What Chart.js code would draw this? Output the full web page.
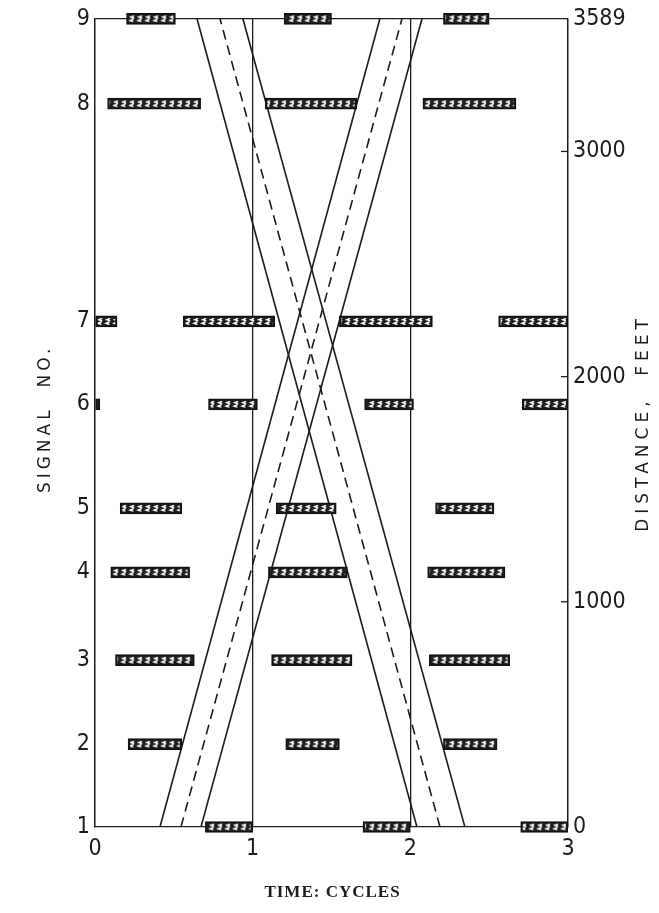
<!DOCTYPE html>
<html><head><meta charset="utf-8">
<script src="https://cdn.jsdelivr.net/npm/chart.js@4.4.1/dist/chart.umd.min.js"></script>
<style>html,body{margin:0;padding:0;background:#fff}#wrap{width:659px;height:913px;position:relative}</style>
</head><body><div id="wrap"><canvas id="c"></canvas></div>
<script>
// ---- data ----
const cycleTicks = [0, 1, 2, 3];
const signalLabels = ['1', '2', '3', '4', '5', '6', '7', '8', '9'];
const signalDistances = [0, 368, 741, 1131, 1415, 1877, 2245, 3212, 3589];
const distanceTicks = [0, 1000, 2000, 3000, 3589];

// red intervals (cycles) for each signal
const red1 = [[0.70, 1.00], [1.70, 2.00], [2.70, 3.00]];
const red2 = [[0.21, 0.55], [1.21, 1.55], [2.21, 2.55]];
const red3 = [[0.13, 0.63], [1.12, 1.63], [2.12, 2.63]];
const red4 = [[0.10, 0.60], [1.10, 1.60], [2.11, 2.60]];
const red5 = [[0.16, 0.55], [1.15, 1.53], [2.16, 2.53]];
const red6 = [[0.00, 0.03], [0.72, 1.03], [1.71, 2.02], [2.71, 3.00]];
const red7 = [[0.00, 0.14], [0.56, 1.14], [1.55, 2.14], [2.56, 3.00]];
const red8 = [[0.08, 0.67], [1.08, 1.66], [2.08, 2.67]];
const red9 = [[0.20, 0.51], [1.20, 1.50], [2.21, 2.50]];

// through-bands: time (cycles) at distance 0 and at distance 3589
const bandDistances = [0, 3589];
const upBandLower  = [0.412, 1.807];
const upBandCenter = [0.545, 1.947];
const upBandUpper  = [0.672, 2.074];
const downBandLower  = [2.042, 0.647];
const downBandCenter = [2.188, 0.793];
const downBandUpper  = [2.346, 0.938];

// ---- build ----
const reds = [red1, red2, red3, red4, red5, red6, red7, red8, red9];
const barData = [];
reds.forEach((list, i) => list.forEach(r => barData.push({x: [r[0], r[1]], y: signalDistances[i]})));
const toPts = arr => bandDistances.map((d, i) => ({x: arr[i], y: d}));

const INK = '#1c1c1c';
const tickFont = {family: "'Liberation Sans Narrow','DejaVu Sans Condensed','Liberation Sans',sans-serif", size: 23};

function lineDs(arr, dashed) {
  return {type: 'line', data: toPts(arr), borderColor: INK, borderWidth: 1.6,
    borderDash: dashed ? [10, 6] : [], pointRadius: 0, fill: false, tension: 0, order: 2,
    xAxisID: 'x', yAxisID: 'y'};
}

function makeHatch(ctx) {
  const c = document.createElement('canvas');
  c.width = 8; c.height = 11;
  const g = c.getContext('2d');
  g.strokeStyle = '#fff'; g.lineWidth = 1.5;
  g.beginPath();
  g.moveTo(6.2, 2.4); g.lineTo(2.8, 3.8); g.lineTo(6.2, 5.0);
  g.moveTo(5.4, 6.0); g.lineTo(2.0, 7.3); g.lineTo(5.4, 8.6);
  g.stroke();
  return ctx.createPattern(c, 'repeat');
}

const decor = {
  id: 'decor',
  afterDatasetsDraw(chart) {
    const ctx = chart.ctx;
    if (!chart._hatch) chart._hatch = makeHatch(ctx);
    chart.data.datasets.forEach((ds, di) => {
      if (ds.type !== 'bar') return;
      const meta = chart.getDatasetMeta(di);
      meta.data.forEach(el => {
        const p = el.getProps(['x', 'y', 'base', 'height'], true);
        const left = Math.min(p.x, p.base), w = Math.abs(p.x - p.base);
        const top = p.y - p.height / 2;
        if (w < 5) return;
        ctx.save();
        ctx.beginPath();
        ctx.rect(left + 2, top + 2, w - 4, p.height - 4);
        ctx.clip();
        ctx.translate(0, top);
        ctx.fillStyle = chart._hatch;
        ctx.fillRect(left, 0, w, p.height);
        ctx.restore();
      });
    });
  },
  afterDraw(chart) {
    const ctx = chart.ctx, a = chart.chartArea;
    const y2 = chart.scales.y2;
    ctx.save();
    ctx.strokeStyle = INK; ctx.lineWidth = 1.3;
    distanceTicks.forEach(v => {
      if (v === 0 || v === 3589) return;
      const py = y2.getPixelForValue(v);
      ctx.beginPath(); ctx.moveTo(a.right - 7, py); ctx.lineTo(a.right, py); ctx.stroke();
    });
    ctx.fillStyle = INK;
    ctx.textAlign = 'center'; ctx.textBaseline = 'middle';
    const midY = (a.top + a.bottom) / 2;
    ctx.save();
    ctx.font = "17px 'DejaVu Sans', sans-serif";
    ctx.letterSpacing = '4px';
    ctx.translate(46, midY - 4);
    ctx.rotate(-Math.PI / 2);
    ctx.fillText('SIGNAL  NO.', 0, 0);
    ctx.restore();
    ctx.save();
    ctx.font = "17px 'DejaVu Sans', sans-serif";
    ctx.letterSpacing = '5px';
    ctx.translate(644, midY);
    ctx.rotate(-Math.PI / 2);
    ctx.fillText('DISTANCE,  FEET', 0, 0);
    ctx.restore();
    ctx.save();
    ctx.font = "bold 17px 'Liberation Serif', serif";
    ctx.letterSpacing = '1px';
    ctx.fillText('TIME: CYCLES', (a.left + a.right) / 2 + 1, 893);
    ctx.restore();
    ctx.restore();
  }
};

new Chart(document.getElementById('c'), {
  type: 'bar',
  data: {
    datasets: [
      {type: 'bar', indexAxis: 'y', data: barData, barThickness: 11,
       backgroundColor: '#1e1e1e', borderColor: '#111', borderWidth: 1.5, borderSkipped: false,
       order: 1, xAxisID: 'x', yAxisID: 'y', clip: {left: 0, right: 0, top: 10, bottom: 10}},
      lineDs(upBandLower, false), lineDs(upBandCenter, true), lineDs(upBandUpper, false),
      lineDs(downBandLower, false), lineDs(downBandCenter, true), lineDs(downBandUpper, false)
    ]
  },
  options: {
    responsive: true, maintainAspectRatio: false, animation: false,
    layout: {padding: {top: 18, left: 0, right: 0, bottom: 0}},
    plugins: {legend: {display: false}, tooltip: {enabled: false}},
    scales: {
      x: {type: 'linear', position: 'bottom', min: 0, max: 3, offset: false,
        afterBuildTicks: s => { s.ticks = cycleTicks.map(v => ({value: v})); },
        ticks: {font: tickFont, color: INK, padding: 8, maxRotation: 0, callback: v => String(v)},
        grid: {color: INK, lineWidth: 1.3, drawTicks: false, offset: false},
        border: {display: true, color: INK, width: 1.3},
        afterFit: s => { s.height = 86; }
      },
      y: {type: 'linear', position: 'left', min: 0, max: 3589, offset: false,
        afterBuildTicks: s => { s.ticks = signalDistances.map(v => ({value: v})); },
        ticks: {font: tickFont, color: INK, padding: 5, autoSkip: false,
          callback: (v, i) => signalLabels[i]},
        grid: {drawTicks: false, lineWidth: 1.3, offset: false,
          color: c => (c.tick && c.tick.value === 3589) ? INK : 'rgba(0,0,0,0)'},
        border: {display: true, color: INK, width: 1.3},
        afterFit: s => { s.width = 95; }
      },
      y2: {type: 'linear', position: 'right', min: 0, max: 3589, display: true, offset: false,
        afterBuildTicks: s => { s.ticks = distanceTicks.map(v => ({value: v})); },
        ticks: {font: tickFont, color: INK, padding: 5, autoSkip: false, callback: v => String(v)},
        grid: {drawOnChartArea: false, drawTicks: false, offset: false},
        border: {display: true, color: INK, width: 1.3},
        afterFit: s => { s.width = 91; }
      }
    }
  },
  plugins: [decor]
});
</script></body></html>
